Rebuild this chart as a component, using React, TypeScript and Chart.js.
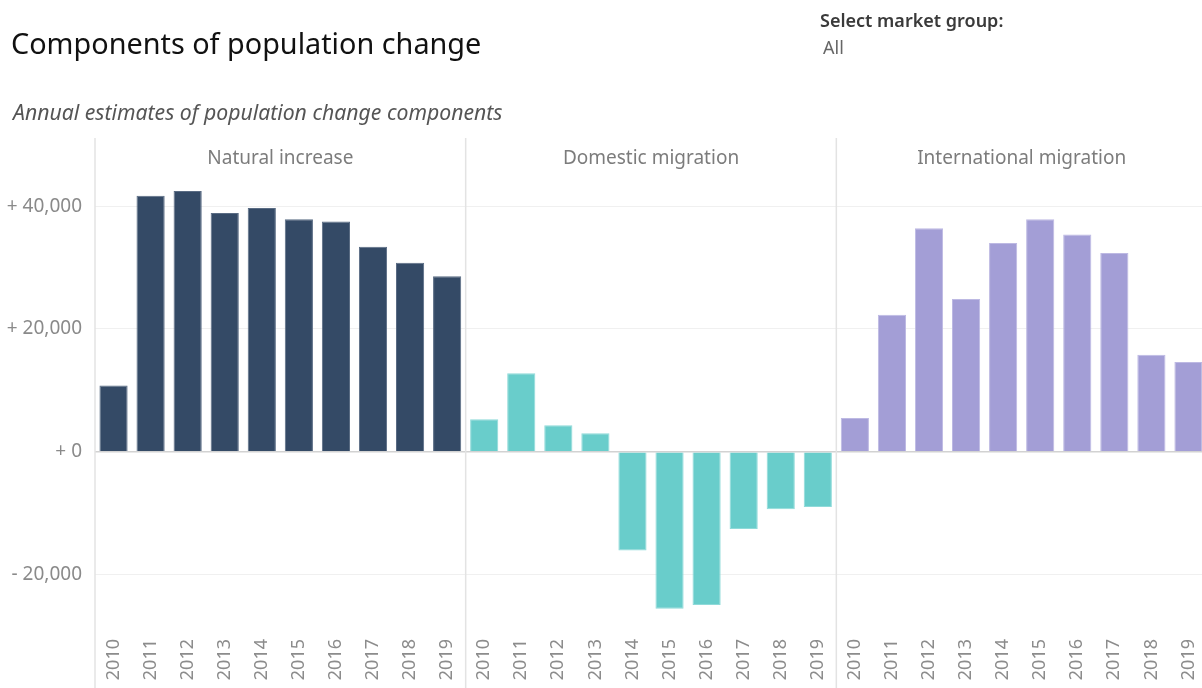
import React, { useEffect, useRef } from "react";
import { Chart, registerables } from "chart.js";

Chart.register(...registerables);

// ---- Data ----
const years = ["2010", "2011", "2012", "2013", "2014", "2015", "2016", "2017", "2018", "2019"];
const components = ["Natural increase", "Domestic migration", "International migration"];
const naturalIncrease = [10800, 41700, 42500, 38900, 39700, 37900, 37500, 33400, 30800, 28600];
const domesticMigration = [5300, 12800, 4300, 3000, -16100, -25600, -25000, -12600, -9400, -9000];
const internationalMigration = [5500, 22300, 36400, 24900, 34000, 37900, 35400, 32400, 15800, 14600];
const yTickValues = [-20000, 0, 20000, 40000];
const yMin = -28740;
const yMax = 44610;

// ---- Styles ----
const componentColors = ["#344a66", "#69cdcb", "#a39ed6"];
const componentBorders = ["#5a6c84", "#8fdad9", "#bdb9e3"];
const FONT = "'Noto Sans', 'DejaVu Sans', sans-serif";

function formatTick(v: number): string {
  const abs = Math.abs(v).toLocaleString("en-US");
  if (v < 0) return "- " + abs;
  return "+ " + abs;
}

const panelPlugin = {
  id: "panelPlugin",
  beforeDatasetsDraw(chart: any) {
    const { ctx, chartArea, scales } = chart;
    const x = scales.x;
    const n = years.length;
    const edges: number[] = [];
    for (let k = 0; k <= components.length; k++) {
      if (k === 0) edges.push(chartArea.left);
      else if (k === components.length) edges.push(chartArea.right);
      else edges.push((x.getPixelForValue(k * n - 1) + x.getPixelForValue(k * n)) / 2);
    }
    ctx.save();
    ctx.strokeStyle = "#e3e3e3";
    ctx.lineWidth = 1.5;
    edges.forEach((px) => {
      ctx.beginPath();
      ctx.moveTo(px, chartArea.top - 40);
      ctx.lineTo(px, chart.height);
      ctx.stroke();
    });
    ctx.fillStyle = "#7c7c7c";
    ctx.font = "19px " + FONT;
    ctx.textAlign = "center";
    ctx.textBaseline = "middle";
    components.forEach((name, k) => {
      ctx.fillText(name, (edges[k] + edges[k + 1]) / 2, chartArea.top - 19);
    });
    ctx.restore();
  },
};

export default function App() {
  const canvasRef = useRef<HTMLCanvasElement | null>(null);

  useEffect(() => {
    const canvas = canvasRef.current;
    if (!canvas) return;
    const labels: string[] = [];
    const values: number[] = [];
    const bg: string[] = [];
    const bd: string[] = [];
    const series = [naturalIncrease, domesticMigration, internationalMigration];
    series.forEach((arr, k) => {
      arr.forEach((v, i) => {
        labels.push(years[i]);
        values.push(v);
        bg.push(componentColors[k]);
        bd.push(componentBorders[k]);
      });
    });

    const chart = new Chart(canvas, {
      type: "bar",
      data: {
        labels,
        datasets: [
          {
            data: values,
            backgroundColor: bg,
            borderColor: bd,
            borderWidth: 1,
            barPercentage: 0.76,
            categoryPercentage: 1,
          },
        ],
      },
      options: {
        animation: false,
        responsive: false,
        maintainAspectRatio: false,
        layout: { padding: { top: 178, left: 0, right: 0, bottom: 0 } },
        plugins: { legend: { display: false }, tooltip: { enabled: false }, title: { display: false } },
        scales: {
          x: {
            grid: { display: false },
            border: { display: false },
            ticks: {
              autoSkip: false,
              minRotation: 90,
              maxRotation: 90,
              padding: 3,
              color: "#8c8c8c",
              font: { family: FONT, size: 18 },
            },
            afterFit(scale: any) {
              scale.height = 60;
              scale.paddingLeft = 0;
              scale.paddingRight = 0;
            },
          },
          y: {
            min: yMin,
            max: yMax,
            border: { display: false },
            grid: {
              drawTicks: false,
              color: (c: any) => (c.tick && c.tick.value === 0 ? "#d2d2d2" : "#f0f0f0"),
              lineWidth: (c: any) => (c.tick && c.tick.value === 0 ? 1.5 : 1),
            },
            afterBuildTicks(scale: any) {
              scale.ticks = yTickValues.map((v) => ({ value: v }));
            },
            ticks: {
              padding: 13,
              color: "#8a8a8a",
              font: { family: FONT, size: 19 },
              callback: (v: any) => formatTick(Number(v)),
            },
            afterFit(scale: any) {
              scale.width = 95;
              scale.paddingTop = 0;
              scale.paddingBottom = 0;
            },
          },
        },
      },
      plugins: [panelPlugin],
    });
    return () => chart.destroy();
  }, []);

  return (
    <div
      style={{
        position: "fixed",
        left: 0,
        top: 0,
        width: 1202,
        height: 688,
        overflow: "hidden",
        background: "#ffffff",
        fontFamily: FONT,
      }}
    >
      <canvas
        ref={canvasRef}
        width={1207}
        height={688}
        style={{ position: "absolute", left: 0, top: 0, width: 1207, height: 688 }}
      />
      <div
        style={{
          position: "absolute",
          left: 11,
          top: 28,
          fontSize: 28.8,
          lineHeight: "29px",
          color: "#111",
          whiteSpace: "nowrap",
        }}
      >
        Components of population change
      </div>
      <div
        style={{
          position: "absolute",
          left: 13,
          top: 101,
          fontSize: 21.2,
          lineHeight: "21px",
          fontStyle: "italic",
          color: "#555",
          whiteSpace: "nowrap",
        }}
      >
        Annual estimates of population change components
      </div>
      <div
        style={{
          position: "absolute",
          left: 820,
          top: 11,
          fontSize: 18,
          lineHeight: "18px",
          fontWeight: 600,
          color: "#3a3a3a",
          whiteSpace: "nowrap",
        }}
      >
        Select market group:
      </div>
      <div
        style={{
          position: "absolute",
          left: 823,
          top: 38,
          fontSize: 18,
          lineHeight: "18px",
          color: "#666",
          whiteSpace: "nowrap",
        }}
      >
        All
      </div>
    </div>
  );
}
